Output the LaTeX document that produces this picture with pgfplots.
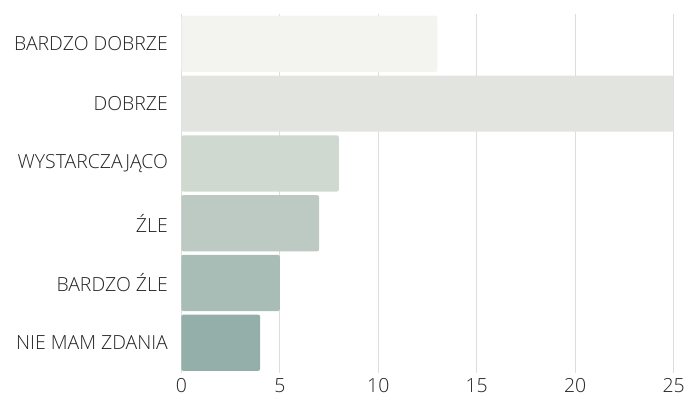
\documentclass[border=0pt]{standalone}
\usepackage{pgfplots}
\pgfplotsset{compat=1.18}
\usepackage{fontspec}
\setmainfont{Open Sans Light}
\definecolor{c1}{HTML}{F3F4EF}
\definecolor{c2}{HTML}{E2E5DF}
\definecolor{c3}{HTML}{D0D9D0}
\definecolor{c4}{HTML}{BCCAC3}
\definecolor{c5}{HTML}{A8BDB6}
\definecolor{c6}{HTML}{94AFAA}
\definecolor{txt}{HTML}{222222}
\definecolor{grd}{HTML}{DDDDDD}
\begin{document}
\begin{tikzpicture}
\begin{axis}[
  scale only axis, width=494pt, height=360pt,
  xmin=0, xmax=25, ymin=-0.5, ymax=5.5, y dir=reverse,
  xbar, bar width=0.94, bar shift=0pt,
  axis line style={draw=none}, axis lines*=left,
  xtick={0,5,10,15,20,25}, ytick={0,1,2,3,4,5},
  yticklabels={BARDZO DOBRZE,DOBRZE,WYSTARCZAJĄCO,ŹLE,BARDZO ŹLE,NIE MAM ZDANIA},
  major tick length=0pt,
  xmajorgrids, grid style={grd, line width=0.8pt},
  tick label style={font=\fontsize{19.5}{22}\selectfont, text=txt},
  /pgf/number format/assume math mode=true,
  yticklabel style={xshift=-10pt},
  xticklabel style={yshift=-2pt},
  clip=false,
]
\addplot[fill=c1, draw=none, rounded corners=2pt] coordinates {(13,0)};
\addplot[fill=c2, draw=none, rounded corners=2pt] coordinates {(25,1)};
\addplot[fill=c3, draw=none, rounded corners=2pt] coordinates {(8,2)};
\addplot[fill=c4, draw=none, rounded corners=2pt] coordinates {(7,3)};
\addplot[fill=c5, draw=none, rounded corners=2pt] coordinates {(5,4)};
\addplot[fill=c6, draw=none, rounded corners=2pt] coordinates {(4,5)};
\path ([xshift=-182pt,yshift=-29pt]rel axis cs:0,0) rectangle ([xshift=12pt,yshift=14pt]rel axis cs:1,1);
\end{axis}
\end{tikzpicture}
\end{document}
